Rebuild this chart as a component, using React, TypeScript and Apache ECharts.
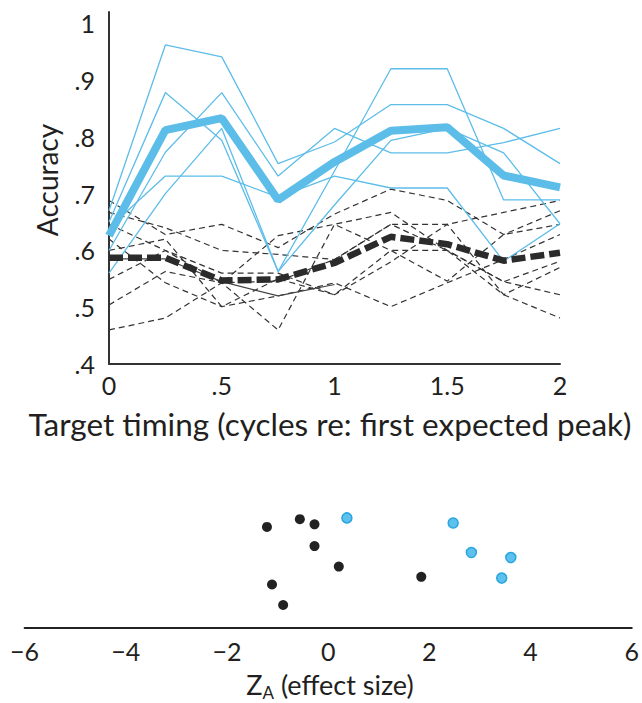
import React, { useEffect, useRef } from "react";
import * as echarts from "echarts";

// ---- data ----
const timing = [0, 0.25, 0.5, 0.75, 1, 1.25, 1.5, 1.75, 2];

const blueSubjects: number[][] = [
  [0.67, 0.962, 0.941, 0.753, 0.791, 0.857, 0.857, 0.815, 0.753],
  [0.65, 0.878, 0.794, 0.563, 0.74, 0.92, 0.92, 0.689, 0.689],
  [0.6, 0.773, 0.878, 0.731, 0.815, 0.772, 0.772, 0.79, 0.815],
  [0.64, 0.731, 0.731, 0.694, 0.731, 0.71, 0.71, 0.581, 0.647],
  [0.56, 0.7, 0.815, 0.563, 0.68, 0.794, 0.815, 0.772, 0.647],
];
const blueMean = [0.626, 0.812, 0.833, 0.689, 0.756, 0.811, 0.817, 0.732, 0.711];

const blackSubjects: number[][] = [
  [0.688, 0.628, 0.646, 0.605, 0.664, 0.708, 0.688, 0.628, 0.67],
  [0.667, 0.64, 0.6, 0.593, 0.584, 0.646, 0.646, 0.667, 0.688],
  [0.646, 0.6, 0.543, 0.626, 0.646, 0.667, 0.6, 0.545, 0.522],
  [0.62, 0.543, 0.501, 0.52, 0.543, 0.501, 0.543, 0.584, 0.628],
  [0.549, 0.6, 0.56, 0.56, 0.522, 0.58, 0.646, 0.522, 0.57],
  [0.504, 0.563, 0.543, 0.546, 0.584, 0.646, 0.6, 0.522, 0.481],
  [0.46, 0.481, 0.543, 0.46, 0.646, 0.6, 0.546, 0.628, 0.646],
  [0.6, 0.62, 0.501, 0.55, 0.522, 0.6, 0.6, 0.545, 0.581],
];
const solidSubject: (number | null)[] = [0.585, 0.585, 0.545, 0.52, 0.54, null, null, null, null];
const blackMean = [0.587, 0.587, 0.547, 0.549, 0.578, 0.624, 0.611, 0.582, 0.596];

const yTickValues = [0.4, 0.5, 0.6, 0.7, 0.8, 0.9, 1.0];
const yTickLabels = [".4", ".5", ".6", ".7", ".8", ".9", "1"];
const xTickValues = [0, 0.5, 1, 1.5, 2];
const xTickLabels = ["0", ".5", "1", "1.5", "2"];

const effectBlackX = [-1.21, -0.56, -0.27, -0.27, 0.21, -1.11, -0.89, 1.84];
const effectBlackJitter = [0.79, 0.85, 0.81, 0.64, 0.48, 0.34, 0.18, 0.4];
const effectBlueX = [0.37, 2.47, 2.83, 3.61, 3.43];
const effectBlueJitter = [0.86, 0.82, 0.59, 0.55, 0.39];
const effectTickValues = [-6, -4, -2, 0, 2, 4, 6];
const effectTickLabels = ["\u22126", "\u22124", "\u22122", "0", "2", "4", "6"];

const FONT = "Lato";
const TEXT = "#231f20";
const BLUE = "#5dbde9";

function pickLabel(values: number[], labels: string[]) {
  return (v: number) => {
    for (let i = 0; i < values.length; i++) {
      if (Math.abs(values[i] - v) < 1e-6) return labels[i];
    }
    return "";
  };
}

const pairs = (vals: (number | null)[]) => timing.map((t, i) => [t, vals[i]]);

export default function App() {
  const ref = useRef<HTMLDivElement>(null);
  useEffect(() => {
    if (!ref.current) return;
    const chart = echarts.init(ref.current, undefined, { renderer: "svg" });
    const series: any[] = [];
    blackSubjects.forEach((s, i) => {
      series.push({
        type: "line",
        name: "black" + i,
        xAxisIndex: 0,
        yAxisIndex: 0,
        data: pairs(s),
        symbol: "none",
        lineStyle: { color: "#333", width: 1.2, type: [6, 4] },
        z: 2,
      });
    });
    series.push({
      type: "line",
      xAxisIndex: 0,
      yAxisIndex: 0,
      data: pairs(solidSubject),
      symbol: "none",
      lineStyle: { color: "#444", width: 1.2, type: "solid" },
      z: 2,
    });
    blueSubjects.forEach((s, i) => {
      series.push({
        type: "line",
        name: "blue" + i,
        xAxisIndex: 0,
        yAxisIndex: 0,
        data: pairs(s),
        symbol: "none",
        lineStyle: { color: BLUE, width: 1.3 },
        z: 3,
      });
    });
    series.push({
      type: "line",
      xAxisIndex: 0,
      yAxisIndex: 0,
      data: pairs(blackMean),
      symbol: "none",
      lineStyle: { color: "#2b2b2b", width: 6.5, type: [14, 5] },
      z: 4,
    });
    series.push({
      type: "line",
      xAxisIndex: 0,
      yAxisIndex: 0,
      data: pairs(blueMean),
      symbol: "none",
      lineStyle: { color: BLUE, width: 8 },
      z: 5,
    });
    series.push({
      type: "scatter",
      xAxisIndex: 1,
      yAxisIndex: 1,
      data: effectBlackX.map((x, i) => [x, effectBlackJitter[i]]),
      symbolSize: 10,
      itemStyle: { color: "#222", opacity: 1 },
      z: 3,
    });
    series.push({
      type: "scatter",
      xAxisIndex: 1,
      yAxisIndex: 1,
      data: effectBlueX.map((x, i) => [x, effectBlueJitter[i]]),
      symbolSize: 10,
      itemStyle: { color: "#5ec0ec", borderColor: "#2aa6df", borderWidth: 1.5, opacity: 1 },
      z: 3,
    });

    chart.setOption({
      animation: false,
      backgroundColor: "#fff",
      textStyle: { fontFamily: FONT },
      grid: [
        { left: 109, top: 12, width: 451, height: 352 },
        { left: 24.6, top: 500, width: 611, height: 128 },
      ],
      xAxis: [
        {
          type: "value",
          gridIndex: 0,
          min: 0,
          max: 2,
          interval: 0.5,
          axisLine: { show: true, onZero: false, lineStyle: { color: "#333", width: 2 } },
          axisTick: { show: false },
          splitLine: { show: false },
          axisLabel: {
            formatter: pickLabel(xTickValues, xTickLabels),
            fontSize: 25,
            color: TEXT,
            fontFamily: FONT,
            margin: 8,
          },
        },
        {
          type: "value",
          gridIndex: 1,
          min: -6,
          max: 6,
          interval: 2,
          axisLine: { show: true, onZero: false, lineStyle: { color: "#222", width: 2 } },
          axisTick: { show: false },
          splitLine: { show: false },
          axisLabel: {
            formatter: pickLabel(effectTickValues, effectTickLabels),
            fontSize: 25,
            color: TEXT,
            fontFamily: FONT,
            margin: 10,
          },
        },
      ],
      yAxis: [
        {
          type: "value",
          gridIndex: 0,
          min: 0.4,
          max: 1.02,
          interval: 0.1,
          axisLine: { show: true, onZero: false, lineStyle: { color: "#333", width: 2 } },
          axisTick: { show: false },
          splitLine: { show: false },
          axisLabel: {
            formatter: pickLabel(yTickValues, yTickLabels),
            fontSize: 25,
            color: TEXT,
            fontFamily: FONT,
            margin: 14,
          },
        },
        {
          type: "value",
          gridIndex: 1,
          min: 0,
          max: 1,
          show: false,
        },
      ],
      graphic: [
        {
          type: "text",
          x: 47,
          y: 180,
          rotation: Math.PI / 2,
          style: {
            text: "Accuracy",
            font: `28px ${FONT}`,
            fill: TEXT,
            textAlign: "center",
            textVerticalAlign: "middle",
          },
        },
        {
          type: "text",
          x: 330,
          y: 424,
          style: {
            text: "Target timing (cycles re: first expected peak)",
            font: `31.5px ${FONT}`,
            fill: TEXT,
            textAlign: "center",
            textVerticalAlign: "middle",
          },
        },
        {
          type: "text",
          x: 330,
          y: 684,
          style: {
            text: "{z|Z}{s|A}{n| (effect size)}",
            textAlign: "center",
            textVerticalAlign: "middle",
            fill: TEXT,
            rich: {
              z: { fontSize: 27, fontFamily: FONT, fill: TEXT, lineHeight: 34, verticalAlign: "middle" },
              s: { fontSize: 17, fontFamily: FONT, fill: TEXT, lineHeight: 17, verticalAlign: "bottom" },
              n: { fontSize: 27, fontFamily: FONT, fill: TEXT, lineHeight: 34, verticalAlign: "middle" },
            },
          },
        },
      ],
      series,
    });
    return () => chart.dispose();
  }, []);
  return <div ref={ref} style={{ width: 642, height: 703, position: "absolute", left: 0, top: 0 }} />;
}
